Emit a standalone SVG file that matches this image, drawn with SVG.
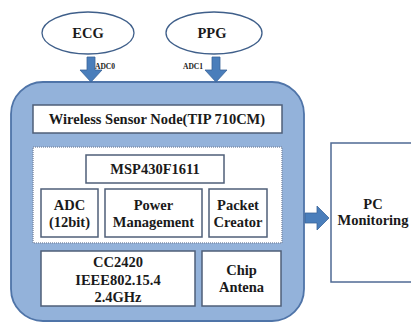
<svg xmlns="http://www.w3.org/2000/svg" width="411" height="326" viewBox="0 0 411 326">
<style>
.t{font-family:'Liberation Serif','Times New Roman','DejaVu Serif',serif;font-weight:bold;fill:#1a1a1a;text-anchor:middle}
.f13{font-size:14.5px}
.f7{font-size:7.5px}
.box{fill:#fff;stroke:#4f5f78;stroke-width:1.5}
.ell{fill:#fff;stroke:#3f5f8a;stroke-width:1.3}
.arr{fill:#4a7ebb;stroke:#3a6599;stroke-width:0.8}
</style>
<rect width="411" height="326" fill="#fff"/>
<g id="ecg">
<ellipse class="ell" cx="88" cy="33" rx="46" ry="21"/>
<text class="t f13" x="88" y="38">ECG</text>
</g>
<g id="ppg">
<ellipse class="ell" cx="214" cy="33" rx="48" ry="21"/>
<text class="t f13" x="212" y="38">PPG</text>
</g>
<g id="sensor-node">
<rect x="11" y="82" width="293" height="239" rx="32" fill="#93b2da" stroke="#4f74a8" stroke-width="1.8"/>
</g>
<g id="wsn-title">
<rect class="box" x="33" y="105" width="249" height="28"/>
<text class="t f13" x="157" y="124">Wireless Sensor Node(TIP 710CM)</text>
</g>
<g id="mcu-area">
<rect x="33" y="147" width="249" height="96" fill="#fff" stroke="#8090aa" stroke-width="1.5" stroke-dasharray="1 1"/>
</g>
<g id="msp">
<rect class="box" x="86" y="155" width="138" height="28"/>
<text class="t f13" x="155" y="174">MSP430F1611</text>
</g>
<g id="adc">
<rect class="box" x="41" y="189" width="57" height="48"/>
<text class="t f13" x="69.5" y="210">ADC</text>
<text class="t f13" x="69.5" y="227">(12bit)</text>
</g>
<g id="power">
<rect class="box" x="105" y="189" width="97" height="48"/>
<text class="t f13" x="153.5" y="210">Power</text>
<text class="t f13" x="153.5" y="227">Management</text>
</g>
<g id="packet">
<rect class="box" x="209" y="189" width="58" height="48"/>
<text class="t f13" x="238" y="210">Packet</text>
<text class="t f13" x="238" y="227">Creator</text>
</g>
<g id="cc2420">
<rect class="box" x="41" y="251" width="154" height="55"/>
<text class="t f13" x="118" y="267">CC2420</text>
<text class="t f13" x="118" y="285">IEEE802.15.4</text>
<text class="t f13" x="118" y="302">2.4GHz</text>
</g>
<g id="antenna">
<rect class="box" x="202" y="251" width="79" height="55"/>
<text class="t f13" x="241.5" y="275">Chip</text>
<text class="t f13" x="241.5" y="292">Antena</text>
</g>
<g id="pc">
<rect x="331" y="143" width="90" height="139" fill="#fff" stroke="#4f6a94" stroke-width="1.5"/>
<text class="t f13" x="373" y="209">PC</text>
<text class="t f13" x="373" y="225">Monitoring</text>
</g>
<g id="connectors">
<path class="arr" d="M87 57 H95 V70 H102 L91 82 L80 70 H87 Z"/>
<text class="t f7" x="105" y="69">ADC0</text>
<path class="arr" d="M212 57 H220 V70 H227 L216 82 L205 70 H212 Z"/>
<text class="t f7" x="193" y="69">ADC1</text>
<path class="arr" d="M305 213 H317 V206 L329 218 L317 230 V223 H305 Z"/>
</g>
</svg>
